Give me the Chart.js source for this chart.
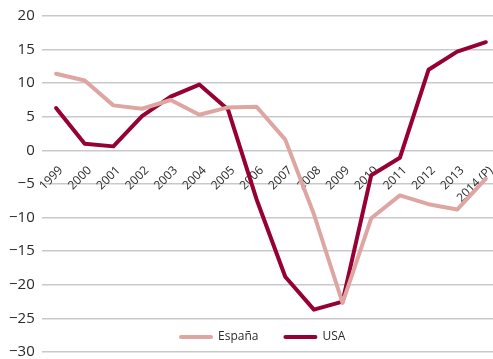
<!DOCTYPE html>
<html>
<head>
<meta charset="utf-8">
<script src="https://cdn.jsdelivr.net/npm/chart.js@4/dist/chart.umd.min.js"></script>
<style>
  html, body { margin: 0; padding: 0; background: #fff; }
  #wrap { width: 493px; height: 359px; overflow: hidden; position: relative; }
  #grafico { display: block; }
</style>
</head>
<body>
<div id="wrap"><canvas id="grafico" width="501" height="368"></canvas></div>
<script>
//DATA
const years = ['1999', '2000', '2001', '2002', '2003', '2004', '2005', '2006',
  '2007', '2008', '2009', '2010', '2011', '2012', '2013', '2014 (P)'];
const espana = [11.4, 10.4, 6.7, 6.2, 7.5, 5.3, 6.4, 6.5, 1.6, -9.5, -22.7, -10.1, -6.7, -8.0, -8.8, -4.2];
const usa = [6.3, 1.0, 0.6, 5.1, 8.0, 9.8, 6.1, -7.3, -18.8, -23.7, -22.5, -3.7, -1.1, 12.0, 14.7, 16.1];
const yTicks = [20, 15, 10, 5, 0, -5, -10, -15, -20, -25, -30];

const colorEspana = '#dea6a2';
const colorUsa = '#960032';
const textColor = '#2b2b2b';

//LEGEND DRAWN INSIDE THE PLOT, ABOVE THE LAST GRIDLINE
const innerLegend = {
  id: 'innerLegend',
  afterDatasetsDraw(chart) {
    const ctx = chart.ctx;
    const area = chart.chartArea;
    const y = area.bottom - 15;
    let x = 179;
    ctx.save();
    ctx.font = '12px "Open Sans"';
    ctx.textBaseline = 'middle';
    chart.data.datasets.forEach(ds => {
      ctx.strokeStyle = ds.borderColor;
      ctx.lineWidth = 4;
      ctx.lineCap = 'round';
      ctx.beginPath();
      ctx.moveTo(x + 2, y);
      ctx.lineTo(x + 32, y);
      ctx.stroke();
      ctx.fillStyle = textColor;
      ctx.fillText(ds.label, x + 39, y);
      x += 39 + ctx.measureText(ds.label).width + 25;
    });
    ctx.restore();
  }
};

function formatTick(v) {
  return v < 0 ? '\u2212' + Math.abs(v) : String(v);
}

new Chart(document.getElementById('grafico'), {
  type: 'line',
  data: {
    labels: years,
    datasets: [
      { label: 'España', data: espana, borderColor: colorEspana, borderWidth: 4 },
      { label: 'USA', data: usa, borderColor: colorUsa, borderWidth: 4 }
    ]
  },
  options: {
    responsive: false,
    animation: false,
    devicePixelRatio: 1,
    layout: { padding: { left: 2, top: 6, right: 0, bottom: 0 } },
    elements: {
      point: { radius: 0 },
      line: { tension: 0, borderJoinStyle: 'round', borderCapStyle: 'round' }
    },
    plugins: {
      legend: { display: false },
      tooltip: { enabled: false }
    },
    scales: {
      x: {
        type: 'category',
        position: { y: 0 },
        offset: true,
        grid: { display: false },
        border: { display: false },
        ticks: {
          color: textColor,
          font: { family: 'Open Sans', size: 12 },
          minRotation: 45,
          maxRotation: 45,
          autoSkip: false,
          padding: 5,
          labelOffset: 5
        }
      },
      y: {
        min: -30,
        max: 20,
        afterBuildTicks: axis => { axis.ticks = yTicks.map(v => ({ value: v })); },
        grid: { color: '#c9c9c9', lineWidth: 1.5, drawTicks: false },
        border: { display: false },
        ticks: {
          color: textColor,
          font: { family: 'Open Sans', size: 15 },
          padding: 7,
          callback: v => formatTick(v)
        }
      }
    }
  },
  plugins: [innerLegend]
});
</script>
</body>
</html>
